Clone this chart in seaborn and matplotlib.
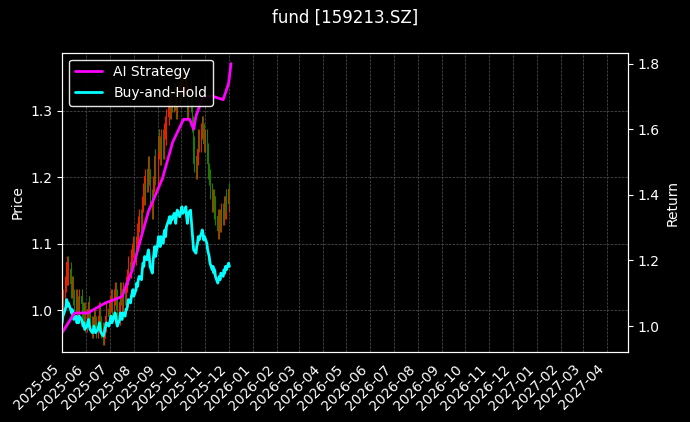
import numpy as np
import pandas as pd
import matplotlib
matplotlib.use("Agg")
import matplotlib.pyplot as plt
import matplotlib.dates as mdates
import matplotlib.ticker as mticker
import seaborn as sns

sns.set_style("dark")
plt.style.use("dark_background")
plt.rcParams['font.family'] = ['DejaVu Sans']
plt.rcParams['font.size'] = 10

closes = [1.00, 1.02, 1.04, 1.05,
          1.07, 1.05, 1.06, 1.04, 1.03,
          1.04, 1.02, 1.01, 1.02, 1.00,
          1.01, 1.00, 1.02, 1.01, 1.00,
          0.99, 1.00, 0.98, 0.99, 1.00,
          1.01, 0.99, 0.98, 0.97, 0.98,
          0.99, 0.98, 0.97, 0.98, 0.99,
          1.00, 0.98, 0.97, 0.96, 0.97,
          0.98, 0.99, 1.00, 0.99, 1.00,
          1.01, 1.02, 1.00, 1.02, 1.03,
          1.02, 1.00, 0.99, 1.01, 1.03,
          1.02, 1.01, 1.03, 1.02, 1.04,
          1.04, 1.05, 1.07, 1.06, 1.08,
          1.09, 1.10, 1.08, 1.10, 1.12,
          1.11, 1.13, 1.14, 1.13, 1.16,
          1.18, 1.17, 1.20, 1.19, 1.21,
          1.22, 1.20, 1.17, 1.15, 1.19,
          1.21, 1.23, 1.20, 1.24, 1.26,
          1.25, 1.23, 1.26, 1.24, 1.27,
          1.28, 1.26, 1.29, 1.31, 1.32,
          1.30, 1.32, 1.31, 1.33, 1.32,
          1.30, 1.33, 1.34, 1.32, 1.33,
          1.34, 1.35, 1.33, 1.34, 1.35,
          1.32, 1.30, 1.33, 1.34, 1.31,
          1.28, 1.25, 1.22, 1.21, 1.23,
          1.24, 1.26, 1.25, 1.27, 1.28,
          1.27, 1.25, 1.26, 1.24, 1.22,
          1.21, 1.20, 1.18, 1.16, 1.17,
          1.15, 1.16, 1.14, 1.12, 1.13,
          1.14, 1.13, 1.15, 1.14, 1.16,
          1.15, 1.17, 1.16, 1.18, 1.17]
ai_dates = ["2025-05-01", "2025-05-17", "2025-06-03", "2025-06-25", "2025-07-17",
            "2025-07-30", "2025-08-07", "2025-08-20", "2025-09-07", "2025-09-20",
            "2025-10-04", "2025-10-12", "2025-10-17", "2025-10-20", "2025-10-29",
            "2025-11-11", "2025-11-24", "2025-12-01", "2025-12-04"]
ai_values = [0.98, 1.04, 1.04, 1.07, 1.09, 1.17, 1.24, 1.35, 1.45, 1.56,
             1.63, 1.63, 1.60, 1.64, 1.70, 1.70, 1.69, 1.74, 1.80]

dates = pd.bdate_range("2025-05-01", periods=len(closes))
c = np.array(closes)
o = np.concatenate([[0.99], c[:-1]])
hi = np.maximum(o, c) + 0.012
lo = np.minimum(o, c) - 0.012
bh = c / 0.99

fig, ax = plt.subplots(figsize=(6.9, 4.22), dpi=100)
fig.patch.set_facecolor("black")
ax.set_facecolor("black")
up = c >= o
col = np.where(up, "#e82000", "#1f7a00")
ax.vlines(dates, lo, hi, colors=col, linewidth=0.8)
ax.bar(dates, np.abs(c - o) + 0.002, bottom=np.minimum(o, c), width=0.8,
       color=col, linewidth=0, edgecolor="none")
ax.set_ylim(0.937, 1.387)
ax.yaxis.set_major_locator(mticker.MultipleLocator(0.1))
ax.set_ylabel("Price", color="white")
ax.grid(True, color="#555555", linestyle="--", linewidth=0.5)

ax2 = ax.twinx()
df = pd.DataFrame({"date": pd.to_datetime(ai_dates), "ai": ai_values})
sns.lineplot(x=dates, y=bh, ax=ax2, color="cyan", linewidth=2, label="Buy-and-Hold")
sns.lineplot(data=df, x="date", y="ai", ax=ax2, color="magenta", linewidth=2, label="AI Strategy")
ax2.set_ylim(0.92, 1.833)
ax2.yaxis.set_major_locator(mticker.MultipleLocator(0.2))
ax2.set_ylabel("Return", color="white")
ax2.set_xlabel("")
h, l = ax2.get_legend_handles_labels()
ax2.legend(h[::-1], l[::-1], loc="upper left", facecolor="black", edgecolor="white",
           framealpha=0.9, labelcolor="white")

ax.set_xlim(pd.Timestamp("2025-05-01"), pd.Timestamp("2027-04-28"))
ax.xaxis.set_major_locator(mdates.MonthLocator())
ax.xaxis.set_major_formatter(mdates.DateFormatter("%Y-%m"))
plt.setp(ax.get_xticklabels(), rotation=45, ha="right")
for a in (ax, ax2):
    a.tick_params(colors="white", labelcolor="white")
for s in list(ax.spines.values()) + list(ax2.spines.values()):
    s.set_color("white")
fig.suptitle("fund [159213.SZ]", color="white", fontsize=12)
fig.subplots_adjust(left=0.09, right=0.91, top=0.875, bottom=0.165)
fig.savefig("out.png", dpi=100, facecolor="black")
